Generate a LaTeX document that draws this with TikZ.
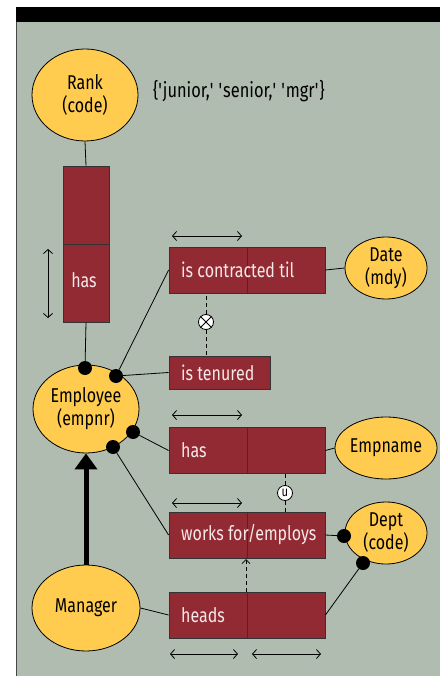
\documentclass[tikz,border=0pt]{standalone}
\usepackage{fontspec}
\setmainfont{Fira Sans}[FakeStretch=0.8]
\usetikzlibrary{shapes.geometric,arrows.meta}
\definecolor{panel}{RGB}{176,188,176}
\definecolor{factred}{RGB}{146,42,51}
\definecolor{entity}{RGB}{255,204,80}
\definecolor{rimgray}{RGB}{70,70,70}
\definecolor{roletext}{RGB}{245,232,232}
\newcommand{\sq}{\textquotesingle}
\tikzset{
  ent/.style={ellipse,draw=black,line width=0.8pt,fill=entity,inner sep=0pt,align=center,font=\fontsize{20}{23}\selectfont},
  role/.style={rectangle,draw=black!80,line width=0.8pt,fill=factred,inner sep=0pt,minimum width=78pt,minimum height=46pt},
  rtext/.style={text=roletext,anchor=west,inner sep=0pt,font=\fontsize{20}{23}\selectfont},
  dot/.style={circle,fill=black,inner sep=0pt,minimum size=14pt},
  cons/.style={circle,draw=black,line width=0.8pt,fill=white,inner sep=0pt,minimum size=15pt},
  link/.style={line width=0.8pt},
  dlink/.style={line width=0.8pt,dash pattern=on 4pt off 3pt},
  uniq/.style={line width=0.8pt,{Straight Barb[length=4pt,width=9pt]}-{Straight Barb[length=4pt,width=9pt]}},
}
\begin{document}
\begin{tikzpicture}[x=1pt,y=-1pt]
\useasboundingbox (0,0) rectangle (440,676);
% frame
\fill[white] (0,0) rectangle (440,676);
\fill[panel] (16,22) rectangle (440,676);
\fill[black] (16,7) rectangle (440,22);
\draw[rimgray,line width=1.5pt] (16.5,22) -- (16.5,676);

% entity types
\node[ent,minimum width=106pt,minimum height=92pt] (rank) at (85,95) {Rank\\(code)};
\node[anchor=west,inner sep=0pt,font=\fontsize{20.5}{22}\selectfont] (rankvals) at (153,91) {\{\sq junior,\sq{} \sq senior,\sq{} \sq mgr\sq\}};
\node[ent,minimum width=106pt,minimum height=88pt] (emp) at (86,409) {Employee\\(empnr)};
\node[ent,minimum width=108pt,minimum height=86pt] (mgr) at (86,608) {Manager};
\node[ent,minimum width=82pt,minimum height=62pt] (date) at (386,268) {Date\\(mdy)};
\node[ent,minimum width=82pt,minimum height=62pt] (ename) at (386,448) {Empname};
\node[ent,minimum width=82pt,minimum height=62pt] (dept) at (386,533) {Dept\\(code)};

% Employee has Rank (vertical fact type)
\node[role,minimum width=46pt,minimum height=78pt] (rkA) at (86,205) {};
\node[role,minimum width=46pt,minimum height=78pt] (rkB) at (86,283) {};
\node[text=roletext,font=\fontsize{20}{23}\selectfont] (rktxt) at (84,280) {has};

% binary fact types
\node[role] (ctA) at (208,270) {};
\node[role] (ctB) at (286,270) {};
\node[rtext] (cttxt) at (181,270) {is contracted til};

\node[role,minimum width=101pt,minimum height=33pt] (ten) at (219.5,372.5) {};
\node[rtext] (tentxt) at (181,372.5) {is tenured};

\node[role] (hnA) at (208,450.5) {};
\node[role] (hnB) at (286,450.5) {};
\node[rtext] (hntxt) at (181,450.5) {has};

\node[role] (wfA) at (208,535) {};
\node[role] (wfB) at (286,535) {};
\node[rtext] (wftxt) at (181,535) {works for/employs};

\node[role] (hdA) at (208,615) {};
\node[role] (hdB) at (286,615) {};
\node[rtext] (hdtxt) at (181,615) {heads};

% mandatory role dots
\node[dot] (m1) at (85,368) {};
\node[dot] (m2) at (116,376) {};
\node[dot] (m3) at (133,432) {};
\node[dot] (m4) at (113,447) {};
\node[dot] (m5) at (344,536) {};
\node[dot] (m6) at (363,563) {};

% role connectors
\draw[link] (rank.south) -- (rkA.north);
\draw[link] (rkB.south) -- (m1);
\draw[link] (m2) -- (ctA.west);
\draw[link] (m2) -- (ten.west);
\draw[link] (ctB.east) -- (date.west);
\draw[link] (m3) -- (hnA.west);
\draw[link] (hnB.east) -- (ename.west);
\draw[link] (m4) -- (wfA.west);
\draw[link] (wfB.east) -- (m5);
\draw[link] (m6) -- (hdB.east);
\draw[link] (mgr.east) -- (hdA.west);

% exclusion constraint
\node[cons] (xor) at (206,322) {};
\draw[line width=0.8pt] (xor.45) -- (xor.225) (xor.135) -- (xor.315);
\draw[dlink] (xor.north) -- (xor.north |- ctA.south);
\draw[dlink] (xor.south) -- (xor.south |- ten.north);

% external uniqueness constraint
\node[cons,font=\fontsize{14}{14}\selectfont] (uq) at (285,493) {u};
\draw[dlink] (uq.north) -- (uq.north |- hnB.south);
\draw[dlink] (uq.south) -- (uq.south |- wfB.north);

% subset constraint
\coordinate (subS) at (246,592);
\coordinate (subT) at (246,559);
\draw[dlink,-{Straight Barb[length=4pt,width=8pt]}] (subS) -- (subT);

% subtype arrow
\draw[line width=5pt,-{Triangle[length=16pt,width=22pt]}] (mgr.north) -- (emp.south);

% uniqueness constraints
\coordinate (u1a) at (48,249); \coordinate (u1b) at (48,318);
\draw[uniq] (u1a) -- (u1b);
\coordinate (u2a) at (172,236); \coordinate (u2b) at (242,236);
\draw[uniq] (u2a) -- (u2b);
\coordinate (u3a) at (172,415); \coordinate (u3b) at (242,415);
\draw[uniq] (u3a) -- (u3b);
\coordinate (u4a) at (172,503); \coordinate (u4b) at (242,503);
\draw[uniq] (u4a) -- (u4b);
\coordinate (u5a) at (170,654); \coordinate (u5b) at (238,654);
\draw[uniq] (u5a) -- (u5b);
\coordinate (u6a) at (252,654); \coordinate (u6b) at (321,654);
\draw[uniq] (u6a) -- (u6b);
\end{tikzpicture}
\end{document}
